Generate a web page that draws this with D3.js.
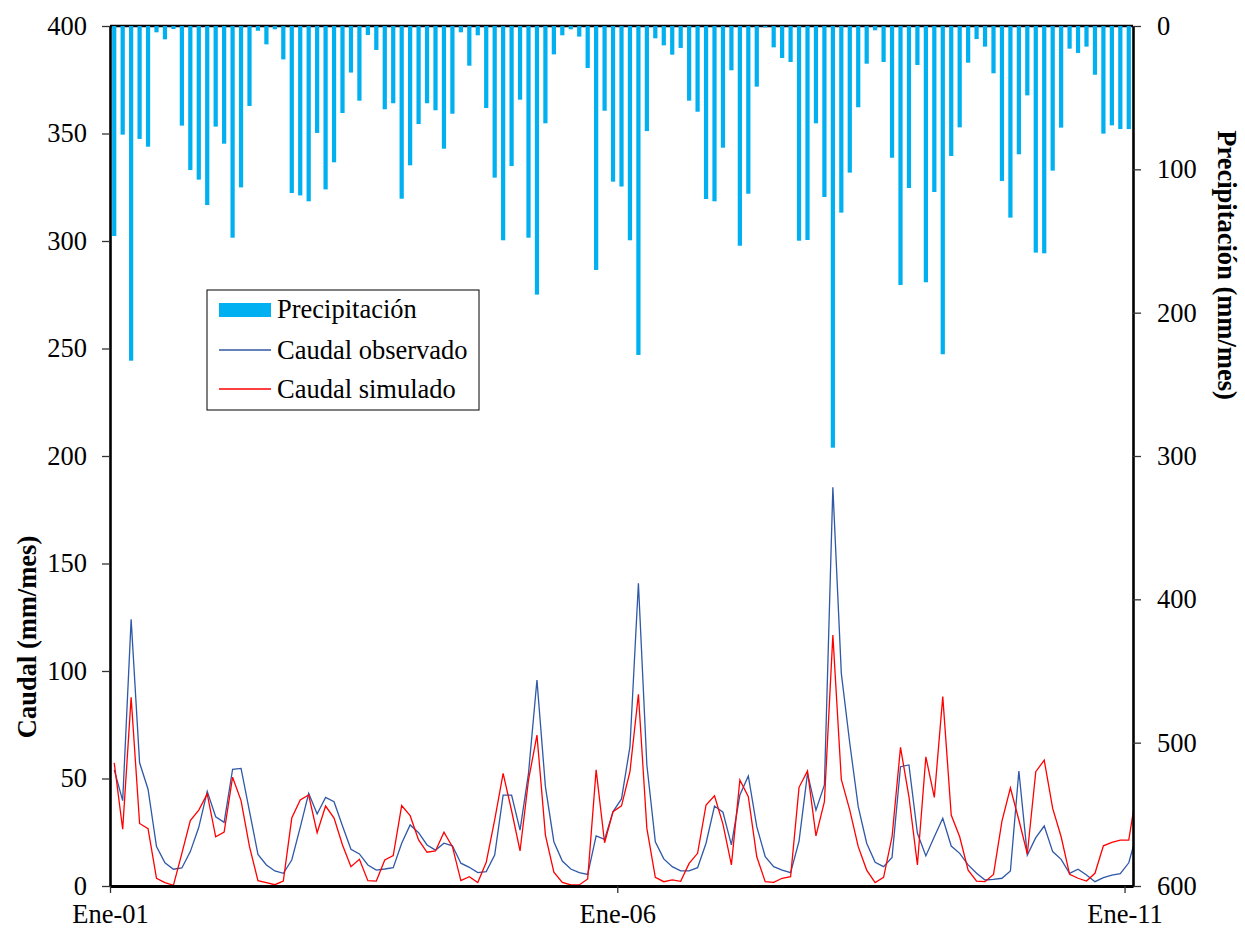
<!DOCTYPE html>
<html><head><meta charset="utf-8">
<script src="https://cdn.jsdelivr.net/npm/d3@7"></script>
<style>
body{margin:0;background:#fff;}
svg text{font-family:"Liberation Serif","Times New Roman",serif;fill:#000;}
</style></head><body>
<svg id="chart" width="1245" height="930"></svg>
<script>
// Monthly precipitation (mm/mes), Ene-01 .. Ene-11
const precipitacion = [146.5,75.8,233.5,78.8,84.2,4.4,9.3,2.1,69.5,100.5,107.2,124.9,
70.2,82.1,147.7,112.6,55.8,3.3,12.8,2.3,23.3,116.5,118.2,122.3,
74.6,114,95.1,60.7,32.5,52.1,6.3,16.7,58.1,53.9,120.5,97.2,
68.4,53.9,58.8,85.6,61.2,4.4,27.7,6.5,57.2,105.8,149.5,97.7,
51.4,147.7,187.4,67.9,19.8,6.5,2.3,7.4,29.3,170.2,59.1,108.6,
112,149.5,229.5,73.3,8.6,13.5,20,15.3,52.1,59.8,120.7,122.3,
84.9,30.9,153.3,117,42.3,1,14.9,22.3,25.1,149.8,149.3,67.9,
119.3,294.2,130.2,102.3,56.7,26.3,3,25.1,91.9,180.7,113,27.2,
178.8,115.8,229,90.7,70.7,25.6,9.1,14.4,33,108.1,133.7,89.5,
48.4,158.1,158.6,100.9,70.9,15.8,18.8,14.4,34,75.1,69.3,71.9,
71.9];
// Observed discharge (mm/mes)
const caudalObservado = [54,39.7,124,57.3,45,18.3,10.8,7.8,8.4,16,27.3,44,
32.2,29.6,54.3,54.7,34.7,14.7,9.8,7,5.9,12.1,27.3,43.1,
33.5,41.2,39.2,27.9,17.1,14.9,9.8,7.4,7.9,8.5,19.9,28.4,
24.8,19.1,16.7,19.9,18.7,10.6,8.7,6.2,6.7,14.4,42.3,42.3,
26,52.4,95.8,46.2,20.6,11.6,7.9,6.2,5.4,23.3,21.7,34.6,
40.5,64.8,140.8,56.3,20.6,12.6,9,7,7,8.5,19.9,37.2,
34.3,19.1,42.3,51.2,27.6,13.6,9,7.4,6.2,20.9,52.4,35.3,
47,185.4,98.9,66.4,36.9,19.9,11,9,13.3,55.5,56.3,24.5,
14,22.9,31.5,18.6,15.2,9.8,5.9,2.8,3.1,3.6,7,53.5,
14.4,22.5,27.9,16,12.4,5.9,7.8,5.1,2,3.9,5.1,5.7,
10.8,25];
// Simulated discharge (mm/mes)
const caudalSimulado = [57.3,26.4,87.8,29.1,26.7,3.6,1.6,0.3,15.2,30.4,35.3,42.8,
22.9,25.1,50.6,39.7,18.3,2.5,1.6,0.6,2.3,31.6,40,42.3,
24.8,37.2,31.6,19.1,9,12.4,2.5,2.3,12.1,14.1,37.4,32.7,
21.4,15.7,16.3,25,18.3,2.5,4.3,1.6,11,30.7,52.4,35,
16.3,49.3,70.2,23.7,6.4,1.7,0.5,0.5,3.3,54,20.1,34.6,
37.3,53.2,89.2,26.8,4,2,2.8,2.2,10.5,15.2,37.7,42,
28.8,9.8,49.3,41.5,13.6,2,1.7,3.6,4.3,45.9,53.5,23.3,
39.2,116.7,49.6,35.3,18.3,7.4,1.6,4,22.9,64.5,41.5,9.8,
60.1,41.2,88.1,33,22.9,7.4,2.3,2,5.4,30.2,45.6,30.7,
14.9,53.2,58.5,36.1,22.9,5.4,3.6,2.3,5.9,18.7,20.3,21.3,
21.3,46];
const xTickMonths = [0,60,120];
const xTickLabels = ["Ene-01","Ene-06","Ene-11"];
const yLeftTicks = [0,50,100,150,200,250,300,350,400];
const yRightTicks = [0,100,200,300,400,500,600];
const legendLabels = ["Precipitación","Caudal observado","Caudal simulado"];
const titleLeft = "Caudal (mm/mes)";
const titleRight = "Precipitación (mm/mes)";

const colBar = "#00B0F0", colObs = "#2F58A6", colSim = "#FF0000";
const L = 110, R = 1133, T = 26, B = 886;
const nMonths = 121;
const FS = "26.5px";

const svg = d3.select("#chart");
const x = d3.scaleLinear().domain([0, nMonths]).range([L, R]);
const yL = d3.scaleLinear().domain([0, 400]).range([B, T]);
const yR = d3.scaleLinear().domain([0, 600]).range([T, B]);
const step = x(1) - x(0);
const barW = step * 0.5;

svg.append("defs").append("clipPath").attr("id","clip")
  .append("rect").attr("x", L).attr("y", 0).attr("width", R - L).attr("height", B);

// top line (secondary category axis at precip 0)
svg.append("line").attr("x1", L).attr("x2", R).attr("y1", yR(0)).attr("y2", yR(0))
  .attr("stroke", "#000").attr("stroke-width", 2.5);

// bars
svg.append("g").attr("clip-path","url(#clip)").selectAll("rect").data(precipitacion).join("rect")
  .attr("x", (d,i) => x(i + 0.5) - barW/2)
  .attr("y", yR(0))
  .attr("width", barW)
  .attr("height", d => yR(d) - yR(0))
  .attr("fill", colBar);

// lines
const line = d3.line().x((d,i) => x(i + 0.5)).y(d => yL(d));
const lg = svg.append("g").attr("clip-path","url(#clip)");
lg.append("path").datum(caudalObservado).attr("d", line)
  .attr("fill","none").attr("stroke", colObs).attr("stroke-width", 1.3);
lg.append("path").datum(caudalSimulado).attr("d", line)
  .attr("fill","none").attr("stroke", colSim).attr("stroke-width", 1.3);

function styleAxis(g){
  g.select(".domain").attr("stroke","#000").attr("stroke-width",2.6);
  g.selectAll(".tick line").attr("stroke","#333").attr("stroke-width",1.3);
  g.selectAll(".tick text").style("font-size", FS).style("font-family","'Liberation Serif','Times New Roman',serif");
}

// left axis
svg.append("g").attr("transform", `translate(${L},0)`)
  .call(d3.axisLeft(yL).tickValues(yLeftTicks).tickSize(8).tickSizeOuter(0).tickPadding(15))
  .call(styleAxis);
// right axis
svg.append("g").attr("transform", `translate(${R},0)`)
  .call(d3.axisRight(yR).tickValues(yRightTicks).tickSize(8).tickSizeOuter(0).tickPadding(16))
  .call(styleAxis);
// bottom axis
svg.append("g").attr("transform", `translate(0,${B})`)
  .call(d3.axisBottom(x).tickValues(xTickMonths).tickFormat((d,i) => xTickLabels[i])
        .tickSize(7).tickSizeOuter(0).tickPadding(11))
  .call(styleAxis)
  .call(g => g.select(".domain").attr("stroke-width",3));

// axis titles
svg.append("text").attr("transform", `translate(36,637) rotate(-90)`)
  .attr("text-anchor","middle").style("font-size", FS).style("font-weight","bold").text(titleLeft);
svg.append("text").attr("transform", `translate(1218,265) rotate(90)`)
  .attr("text-anchor","middle").style("font-size", FS).style("font-weight","bold").text(titleRight);

// legend
const leg = svg.append("g");
leg.append("rect").attr("x",207).attr("y",290).attr("width",272).attr("height",120)
  .attr("fill","#fff").attr("stroke","#000").attr("stroke-width",1);
leg.append("rect").attr("x",219).attr("y",303).attr("width",52).attr("height",14).attr("fill",colBar);
leg.append("line").attr("x1",219).attr("x2",271).attr("y1",350).attr("y2",350)
  .attr("stroke",colObs).attr("stroke-width",1.3);
leg.append("line").attr("x1",219).attr("x2",271).attr("y1",389).attr("y2",389)
  .attr("stroke",colSim).attr("stroke-width",1.3);
const legY = [318, 359, 398];
legendLabels.forEach((t,i) => {
  leg.append("text").attr("x",277).attr("y",legY[i]).style("font-size", FS).text(t);
});
</script>
</body></html>
